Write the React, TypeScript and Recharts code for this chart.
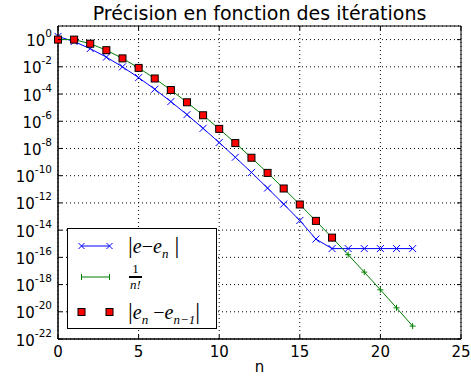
import React from 'react';
import { LineChart, Line, XAxis, YAxis, CartesianGrid, Legend, ReferenceArea } from 'recharts';

// n = 0..22
const nValues = [0, 1, 2, 3, 4, 5, 6, 7, 8, 9, 10, 11, 12, 13, 14, 15, 16, 17, 18, 19, 20, 21, 22];

// |e - e_n| (stalls at machine precision from n = 17)
const errValues = [
  1.718, 0.718, 0.218, 0.0516, 0.00995, 1.61e-3, 2.26e-4, 2.79e-5, 3.06e-6, 3.03e-7, 2.73e-8, 2.26e-9,
  1.73e-10, 1.23e-11, 8.15e-13, 5.1e-14, 2.2e-15, 4.4e-16, 4.4e-16, 4.4e-16, 4.4e-16, 4.4e-16, 4.4e-16,
];

// 1/n!
const invFactValues = [
  1, 1, 0.5, 0.1667, 0.04167, 8.333e-3, 1.389e-3, 1.984e-4, 2.48e-5, 2.756e-6, 2.756e-7, 2.505e-8,
  2.088e-9, 1.606e-10, 1.147e-11, 7.647e-13, 4.779e-14, 2.811e-15, 1.562e-16, 8.22e-18, 4.11e-19,
  1.957e-20, 8.9e-22,
];

// |e_n - e_{n-1}| (only computed up to n = 17)
const diffValues = [
  1, 1, 0.5, 0.1667, 0.04167, 8.333e-3, 1.389e-3, 1.984e-4, 2.48e-5, 2.756e-6, 2.756e-7, 2.505e-8,
  2.088e-9, 1.606e-10, 1.147e-11, 7.647e-13, 4.779e-14, 2.811e-15,
];

const xTicks = [0, 5, 10, 15, 20, 25];
const yTicks = [1, 1e-2, 1e-4, 1e-6, 1e-8, 1e-10, 1e-12, 1e-14, 1e-16, 1e-18, 1e-20, 1e-22];

const data = nValues.map((n, i) => ({
  n,
  err: errValues[i],
  inv: invFactValues[i],
  diff: i < diffValues.length ? diffValues[i] : undefined,
}));

const FONT = '"DejaVu Sans", sans-serif';
const MATH = '"Liberation Serif", "DejaVu Serif", serif';

// plot frame (used for the inward tick marks)
const PLOT_TOP = 26;
const PLOT_RIGHT = 461;

const XDot = (props: any) => {
  const { cx, cy } = props;
  if (cx == null || cy == null) return null;
  const s = 3.5;
  return (
    <g stroke="#0000ff" strokeWidth={1}>
      <line x1={cx - s} y1={cy - s} x2={cx + s} y2={cy + s} />
      <line x1={cx - s} y1={cy + s} x2={cx + s} y2={cy - s} />
    </g>
  );
};

const PlusDot = (props: any) => {
  const { cx, cy } = props;
  if (cx == null || cy == null) return null;
  const s = 3;
  return (
    <g stroke="#008000" strokeWidth={1}>
      <line x1={cx - s} y1={cy} x2={cx + s} y2={cy} />
      <line x1={cx} y1={cy - s} x2={cx} y2={cy + s} />
    </g>
  );
};

const SquareDot = (props: any) => {
  const { cx, cy, value } = props;
  if (cx == null || cy == null || value == null) return null;
  return <rect x={cx - 3.5} y={cy - 3.5} width={7} height={7} fill="#ff0000" stroke="#000" strokeWidth={1} />;
};

const YTick = (props: any) => {
  const { x, y, payload } = props;
  const exp = Math.round(Math.log10(payload.value));
  const ax = x + 6;
  return (
    <g>
      <line x1={ax} y1={y} x2={ax + 4} y2={y} stroke="#000" />
      <line x1={PLOT_RIGHT - 4} y1={y} x2={PLOT_RIGHT} y2={y} stroke="#000" />
      <text x={x} y={y + 6.5} textAnchor="end" fontFamily={FONT} fontSize={15} fill="#000">
        <tspan>10</tspan>
        <tspan dy={-9} fontSize={10.5}>{exp}</tspan>
      </text>
    </g>
  );
};

const XTick = (props: any) => {
  const { x, y, payload } = props;
  const ay = y - 7;
  return (
    <g>
      <line x1={x} y1={ay} x2={x} y2={ay - 4} stroke="#000" />
      <line x1={x} y1={PLOT_TOP} x2={x} y2={PLOT_TOP + 4} stroke="#000" />
      <text x={x} y={y + 10.5} textAnchor="middle" fontFamily={FONT} fontSize={15} fill="#000">
        {payload.value}
      </text>
    </g>
  );
};

const LegendBox = () => {
  const rowStyle = (top: number): React.CSSProperties => ({ position: 'absolute', left: 0, top, width: '100%', height: 34 });
  const sample = (kind: string) => (
    <svg width={56} height={34} style={{ position: 'absolute', left: 0, top: 0 }}>
      {kind === 'x' && (
        <g stroke="#0000ff" strokeWidth={1}>
          <line x1={13.5} y1={17} x2={41.5} y2={17} />
          <line x1={10.5} y1={14} x2={16.5} y2={20} />
          <line x1={10.5} y1={20} x2={16.5} y2={14} />
          <line x1={38.5} y1={14} x2={44.5} y2={20} />
          <line x1={38.5} y1={20} x2={44.5} y2={14} />
        </g>
      )}
      {kind === 'plus' && (
        <g stroke="#008000" strokeWidth={1}>
          <line x1={13.5} y1={17} x2={41.5} y2={17} />
          <line x1={13.5} y1={14} x2={13.5} y2={20} />
          <line x1={41.5} y1={14} x2={41.5} y2={20} />
        </g>
      )}
      {kind === 'sq' && (
        <g fill="#ff0000" stroke="#000" strokeWidth={1}>
          <rect x={10} y={13.5} width={7} height={7} />
          <rect x={38} y={13.5} width={7} height={7} />
        </g>
      )}
    </svg>
  );
  const bar = { fontStyle: 'normal' as const, fontSize: 24 };
  const sub = { fontSize: 13, verticalAlign: 'baseline', position: 'relative' as const, top: 5 };
  return (
    <div
      style={{
        position: 'relative',
        width: 150,
        height: 101,
        border: '1px solid #000',
        background: '#fff',
        boxSizing: 'border-box',
      }}
    >
      <div style={rowStyle(0)}>
        {sample('x')}
        <div style={{ position: 'absolute', left: 60, top: 1, fontFamily: MATH, fontSize: 20, fontStyle: 'italic', lineHeight: '30px', whiteSpace: 'nowrap' }}>
          <span style={bar}>|</span>e<span style={{ fontStyle: 'normal' }}>−</span>e<span style={sub}>n</span>
          <span style={bar}> |</span>
        </div>
      </div>
      <div style={rowStyle(31)}>
        {sample('plus')}
        <div style={{ position: 'absolute', left: 61, top: 3, fontFamily: MATH, fontSize: 13, lineHeight: '12px', textAlign: 'center', width: 13 }}>
          <div style={{ borderBottom: '2px solid #000', paddingBottom: 1 }}>1</div>
          <div style={{ fontStyle: 'italic', paddingTop: 1 }}>n!</div>
        </div>
      </div>
      <div style={rowStyle(66)}>
        {sample('sq')}
        <div style={{ position: 'absolute', left: 60, top: 1, fontFamily: MATH, fontSize: 20, fontStyle: 'italic', lineHeight: '30px', whiteSpace: 'nowrap' }}>
          <span style={bar}>|</span>e<span style={sub}>n</span>
          <span style={{ fontStyle: 'normal' }}> −</span>e<span style={sub}>n−1</span>
          <span style={bar}>|</span>
        </div>
      </div>
    </div>
  );
};

export default function App() {
  return (
    <div style={{ position: 'absolute', left: 0, top: 0, width: 471, height: 376, background: '#fff' }}>
      <div
        style={{
          position: 'absolute',
          left: 58,
          width: 403,
          top: 1,
          textAlign: 'center',
          fontFamily: FONT,
          fontSize: 19,
          lineHeight: '24px',
          color: '#000',
          zIndex: 2,
        }}
      >
        Précision en fonction des itérations
      </div>
      <LineChart width={471} height={376} data={data} margin={{ top: 26, right: 10, left: 0, bottom: 0 }}>
        <CartesianGrid stroke="#000" strokeDasharray="1 3" strokeWidth={1} />
        <XAxis
          dataKey="n"
          type="number"
          domain={[0, 25]}
          ticks={xTicks}
          interval={0}
          height={37}
          tickLine={false}
          tickSize={5}
          tickMargin={2}
          axisLine={{ stroke: '#000' }}
          tick={<XTick />}
          label={{ value: 'n', position: 'insideBottom', offset: 4, fontFamily: FONT, fontSize: 15, fill: '#000' }}
        />
        <YAxis
          scale="log"
          type="number"
          domain={[1e-22, 10]}
          allowDataOverflow
          ticks={yTicks}
          interval={0}
          width={58}
          tickLine={false}
          tickSize={4}
          tickMargin={2}
          axisLine={{ stroke: '#000' }}
          tick={<YTick />}
        />
        <ReferenceArea x1={0} x2={25} y1={1e-22} y2={10} fill="none" stroke="#000" strokeWidth={1} ifOverflow="visible" />
        <Line dataKey="err" type="linear" stroke="#0000ff" strokeWidth={1} dot={<XDot />} isAnimationActive={false} />
        <Line dataKey="inv" type="linear" stroke="#008000" strokeWidth={1} dot={<PlusDot />} isAnimationActive={false} />
        <Line dataKey="diff" type="linear" stroke="none" dot={<SquareDot />} connectNulls={false} isAnimationActive={false} />
        <Legend
          content={<LegendBox />}
          layout="horizontal"
          verticalAlign="middle"
          align="center"
          wrapperStyle={{ position: 'absolute', left: 67, top: 228, width: 150, height: 101 }}
        />
      </LineChart>
    </div>
  );
}
